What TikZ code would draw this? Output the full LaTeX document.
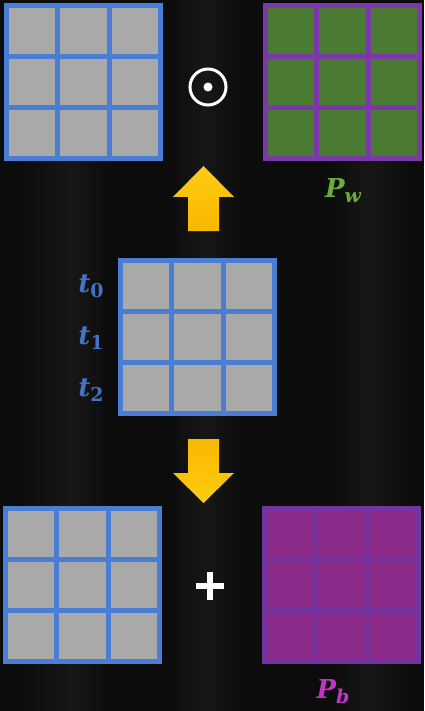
\documentclass[tikz,border=0pt]{standalone}
\usepackage{fontspec}
\newfontfamily\lblfont{DejaVu Serif}[BoldFont={DejaVu Serif Bold},BoldItalicFont={DejaVu Serif Bold Italic}]
\begin{document}
\begin{tikzpicture}[x=1pt,y=-1pt]
\definecolor{bgc}{HTML}{0C0C0C}
\definecolor{bandc}{HTML}{171717}
\definecolor{blueline}{HTML}{4A7ED4}
\definecolor{greycell}{HTML}{A9A9A9}
\definecolor{purpline}{HTML}{7A38A8}
\definecolor{greencell}{HTML}{4B7A32}
\definecolor{magcell}{HTML}{8C2A8A}
\definecolor{magline}{HTML}{7434A0}
\definecolor{pwcol}{HTML}{6AAD3C}
\definecolor{pbcol}{HTML}{C235C4}
\definecolor{tcol}{HTML}{4472C4}
\definecolor{arrtop}{HTML}{FFCC10}
\definecolor{arrbot}{HTML}{F7B800}
\tikzset{
  lbl/.style={inner sep=0pt, font=\lblfont\bfseries},
  opsym/.style={white, line width=5.5pt},
}
\newcommand\bigtxt[1]{{\fontsize{26}{28}\selectfont\bfseries\itshape #1}}
\newcommand\subtxt[1]{\raisebox{-5pt}{\fontsize{19}{21}\selectfont\bfseries #1}}
% background
\fill[bgc] (0,0) rectangle (424,711);
\shade[left color=bgc, right color=bandc] (20,160) rectangle (70,711);
\shade[left color=bandc, right color=bgc] (70,160) rectangle (110,711);
\shade[left color=bgc, right color=bandc] (170,0) rectangle (205,711);
\shade[left color=bandc, right color=bgc] (205,0) rectangle (240,711);
\shade[left color=bgc, right color=bandc] (330,160) rectangle (370,711);
\shade[left color=bandc, right color=bgc] (370,160) rectangle (410,711);
\useasboundingbox (0,0) rectangle (424,711);
% grid drawing: #1 x0, #2 y0, #3 line colour, #4 cell colour
\newcommand\mygrid[4]{%
  \fill[#3] (#1,#2) rectangle ++(159,158);
  \foreach \i in {0,1,2}{\foreach \j in {0,1,2}{%
    \fill[#4] ({#1+5+\i*51.3},{#2+5+\j*51}) rectangle ++(46.3,46);}}%
}
\mygrid{4}{3}{blueline}{greycell}
\mygrid{263}{3}{purpline}{greencell}
\mygrid{118}{258}{blueline}{greycell}
\mygrid{3}{506}{blueline}{greycell}
\mygrid{262}{506}{magline}{magcell}
% odot
\draw[white, line width=3pt] (208,87) circle (18);
\fill[white] (208,87) circle (4.5);
% plus
\draw[opsym] (196,586) -- (224,586) (210,572) -- (210,600);
% up arrow
\shade[top color=arrtop, bottom color=arrbot]
  (203.5,166) -- (234,197) -- (219,197) -- (219,231) -- (188,231) -- (188,197) -- (173,197) -- cycle;
% down arrow
\shade[top color=arrbot, bottom color=arrtop]
  (188,439) -- (219,439) -- (219,473) -- (234,473) -- (203.5,503) -- (173,473) -- (188,473) -- cycle;
% labels
\node[lbl, text=pwcol] (pw) at (343,191) {\bigtxt{P}\subtxt{\itshape w}};
\node[lbl, text=pbcol] (pb) at (333,692) {\bigtxt{P}\subtxt{\itshape b}};
\node[lbl, text=tcol] (t0) at (91,286) {\bigtxt{t}\subtxt{0}};
\node[lbl, text=tcol] (t1) at (91,338) {\bigtxt{t}\subtxt{1}};
\node[lbl, text=tcol] (t2) at (91,390) {\bigtxt{t}\subtxt{2}};
\end{tikzpicture}
\end{document}
